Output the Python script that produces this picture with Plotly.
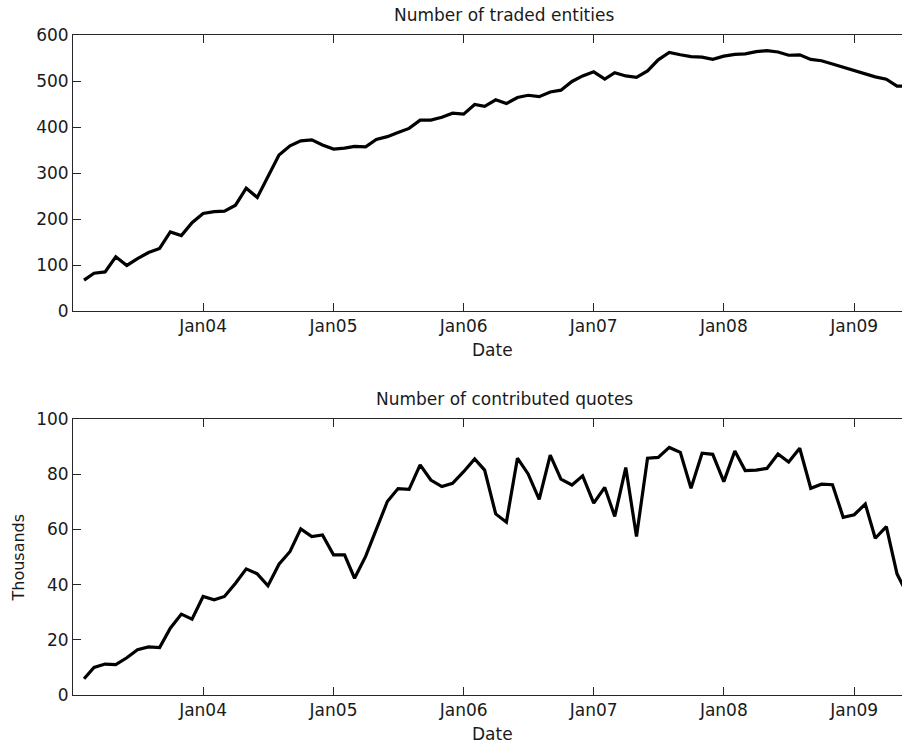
import plotly.graph_objects as go
import pandas as pd

# ---- data (monthly, Feb 2003 .. Jun 2009) ----
months = pd.date_range("2003-02-01", "2009-06-01", freq="MS")

traded_entities = [
    67, 82, 85, 118, 99, 114, 127, 136, 172, 164, 192,
    212, 216, 217, 230, 267, 247, 292, 339, 359, 370, 372, 361,
    352, 354, 358, 357, 373, 379, 388, 397, 415, 415, 421, 430,
    428, 449, 445, 459, 451, 464, 469, 466, 476, 480, 499, 511,
    520, 504, 518, 511, 508, 522, 546, 562, 557, 553, 552, 547,
    554, 558, 559, 564, 566, 563, 556, 557, 547, 544, 537, 530,
    524, 517, 509, 504, 489, 489,
]

contributed_quotes_thousands = [
    5.9, 10.0, 11.2, 11.0, 13.5, 16.4, 17.4, 17.2, 24.2, 29.3, 27.5,
    35.7, 34.5, 35.7, 40.5, 45.7, 43.9, 39.6, 47.4, 52.0, 60.2, 57.4, 58.0,
    50.8, 50.8, 42.3, 50.2, 60.1, 70.1, 74.8, 74.5, 83.4, 77.9, 75.5, 76.7,
    80.9, 85.5, 81.5, 65.6, 62.6, 85.8, 80.1, 70.9, 86.9, 78.2, 76.1, 79.4,
    69.5, 75.2, 64.7, 82.4, 57.4, 85.8, 86.1, 89.7, 87.9, 74.9, 87.6, 87.2,
    77.3, 88.4, 81.3, 81.5, 82.1, 87.3, 84.4, 89.4, 74.9, 76.4, 76.2, 64.4,
    65.3, 69.2, 56.8, 61.0, 43.9, 36.0,
]

tick_dates = ["2004-01-01", "2005-01-01", "2006-01-01", "2007-01-01", "2008-01-01", "2009-01-01"]
tick_labels = ["Jan04", "Jan05", "Jan06", "Jan07", "Jan08", "Jan09"]

title_top = "Number of traded entities"
title_bottom = "Number of contributed quotes"

# ---- layout geometry (screen pixels; page margin removed below) ----
W, H = 902, 746
L, R, T, B = 73, 0, 35, 746 - 695
PW, PH = W - L - R, H - T - B


def px(X):
    return (X - L) / PW


def py(Y):
    return (H - B - Y) / PH


FONT = "DejaVu Sans"
FS = 17
TXT = "#1a1a1a"
AX = "#262626"

fig = go.Figure()
fig.add_trace(go.Scatter(x=months, y=traded_entities, mode="lines",
                         line=dict(color="black", width=3.2), xaxis="x", yaxis="y",
                         showlegend=False))
fig.add_trace(go.Scatter(x=months, y=contributed_quotes_thousands, mode="lines",
                         line=dict(color="black", width=3.2), xaxis="x2", yaxis="y2",
                         showlegend=False))

xcommon = dict(
    range=["2003-01-01", "2009-05-15"],
    tickmode="array", tickvals=tick_dates, ticktext=tick_labels,
    ticks="inside", ticklen=8, tickwidth=1, tickcolor=AX,
    showline=True, linecolor=AX, linewidth=1, mirror="ticks",
    showgrid=False, zeroline=False,
    tickfont=dict(family=FONT, size=FS, color=TXT),
)
ycommon = dict(
    ticks="inside", ticklen=8, tickwidth=1, tickcolor=AX,
    showline=True, linecolor=AX, linewidth=1,
    showgrid=False, zeroline=False,
    tickfont=dict(family=FONT, size=FS, color=TXT),
)

fig.update_layout(
    width=W, height=H,
    margin=dict(l=L, r=R, t=T, b=B, pad=0),
    paper_bgcolor="white", plot_bgcolor="white",
    xaxis=dict(domain=[0, 1], anchor="y", **xcommon),
    yaxis=dict(domain=[py(311), 1.0], anchor="x", range=[0, 600], dtick=100, **ycommon),
    xaxis2=dict(domain=[0, 1], anchor="y2", **xcommon),
    yaxis2=dict(domain=[0, py(419)], anchor="x2", range=[0, 100], dtick=20, **ycommon),
    annotations=[
        dict(text=title_top, x=px(504), y=py(14.5), xref="paper", yref="paper",
             showarrow=False, xanchor="center", yanchor="middle",
             font=dict(family=FONT, size=FS, color=TXT)),
        dict(text=title_bottom, x=px(504), y=py(398.5), xref="paper", yref="paper",
             showarrow=False, xanchor="center", yanchor="middle",
             font=dict(family=FONT, size=FS, color=TXT)),
        dict(text="Date", x=px(492), y=py(350), xref="paper", yref="paper",
             showarrow=False, xanchor="center", yanchor="middle",
             font=dict(family=FONT, size=FS, color=TXT)),
        dict(text="Date", x=px(492), y=py(734), xref="paper", yref="paper",
             showarrow=False, xanchor="center", yanchor="middle",
             font=dict(family=FONT, size=FS, color=TXT)),
        dict(text="Thousands", x=px(17.5), y=py(558), xref="paper", yref="paper",
             showarrow=False, xanchor="center", yanchor="middle", textangle=-90,
             font=dict(family=FONT, size=16, color=TXT)),
    ],
)

fig.write_html(
    "out.html",
    config={"displayModeBar": False},
    post_script="document.body.style.margin='0';document.body.style.overflow='hidden';",
)
